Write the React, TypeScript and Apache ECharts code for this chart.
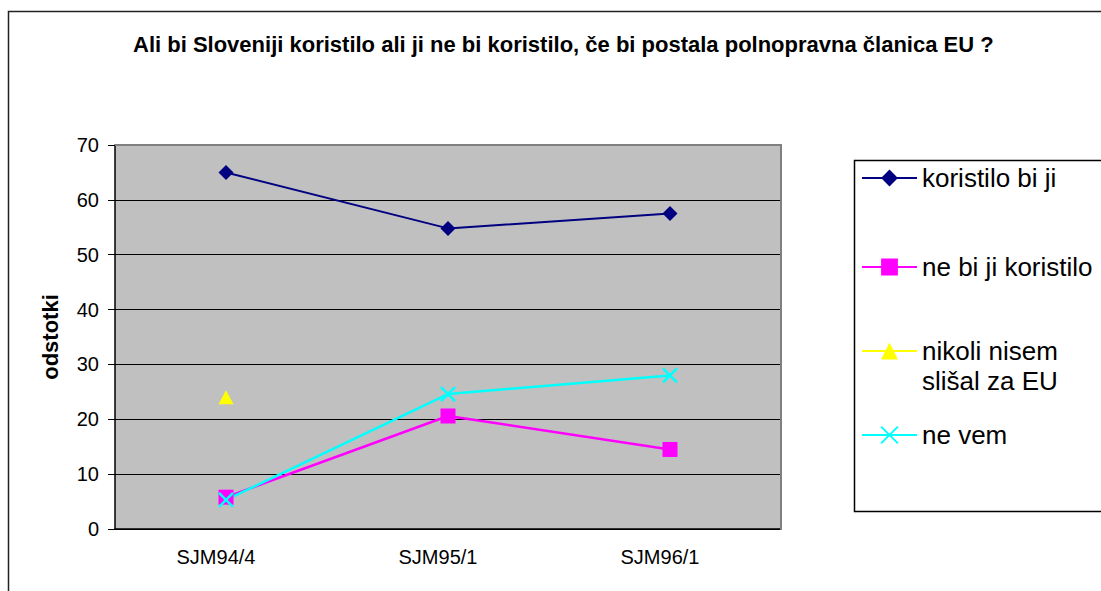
import React, { useEffect, useRef } from "react";
import * as echarts from "echarts";

const categories = ["SJM94/4", "SJM95/1", "SJM96/1"];
const koristiloBiJi = [65, 54.8, 57.5];
const neBiJiKoristilo = [5.8, 20.6, 14.5];
const nikoliNisemSlisal = [24, null, null];
const neVem = [5.3, 24.6, 28.0];
const yMin = 0;
const yMax = 70;
const yInterval = 10;

const seriesNames = [
  "koristilo bi ji",
  "ne bi ji koristilo",
  "nikoli nisem\nslišal za EU",
  "ne vem",
];

const FONT = "'Liberation Sans', Arial, sans-serif";

export default function App() {
  const ref = useRef<HTMLDivElement>(null);

  useEffect(() => {
    document.body.style.margin = "0";
    if (!ref.current) return;
    const chart = echarts.init(ref.current, undefined, { renderer: "svg" });

    const G = { left: 115, top: 145, right: 320, bottom: 62 };
    const W = 1101;
    const H = 591;
    const gx2 = W - G.right;
    const gy2 = H - G.bottom;

    const legendTops = [163, 252, 306, 420];

    const option: any = {
      animation: false,
      backgroundColor: "#ffffff",
      textStyle: { fontFamily: FONT },
      title: {
        text: "Ali bi Sloveniji koristilo ali ji ne bi koristilo, če bi postala polnopravna članica EU ?",
        left: 133,
        top: 33,
        padding: 0,
        textStyle: {
          fontFamily: FONT,
          fontWeight: "bold",
          fontSize: 22,
          color: "#000",
        },
      },
      grid: {
        left: G.left,
        top: G.top,
        right: G.right,
        bottom: G.bottom,
        show: true,
        backgroundColor: "#C0C0C0",
        borderWidth: 0,
      },
      xAxis: {
        type: "category",
        data: categories,
        boundaryGap: true,
        axisLine: { lineStyle: { color: "#000", width: 1.5 } },
        axisTick: { length: 7, lineStyle: { color: "#000", width: 1 } },
        axisLabel: {
          fontFamily: FONT,
          fontSize: 20,
          color: "#000",
          margin: 18,
          padding: [0, 20, 0, 0],
        },
        splitLine: { show: false },
      },
      yAxis: {
        type: "value",
        min: yMin,
        max: yMax,
        interval: yInterval,
        name: "odstotki",
        nameLocation: "middle",
        nameRotate: 90,
        nameGap: 54,
        nameTextStyle: {
          fontFamily: FONT,
          fontWeight: "bold",
          fontSize: 22,
          color: "#000",
        },
        axisLine: { show: true, lineStyle: { color: "#000", width: 1.5 } },
        axisTick: { show: true, length: 7, lineStyle: { color: "#000", width: 1 } },
        axisLabel: {
          fontFamily: FONT,
          fontSize: 20,
          color: "#000",
          margin: 16,
        },
        splitLine: { show: true, lineStyle: { color: "#000", width: 1 } },
      },
      legend: seriesNames.map((n, i) => ({
        data: [n],
        left: 861,
        top: legendTops[i],
        orient: "vertical",
        itemWidth: 55,
        itemHeight: 21,
        itemGap: 0,
        padding: 0,
        selectedMode: false,
        formatter: i === 2 ? (name: string) => "\n" + name : undefined,
        textStyle: {
          fontFamily: FONT,
          fontSize: 26,
          lineHeight: 30,
          color: "#000",
        },
      })),
      graphic: [
        {
          type: "rect",
          z: 100,
          silent: true,
          shape: { x: 8.5, y: 11.5, width: 1200, height: 700 },
          style: { fill: "none", stroke: "#222", lineWidth: 1.5 },
        },
        {
          type: "rect",
          z: 100,
          silent: true,
          shape: { x: 854.5, y: 160.5, width: 400, height: 351 },
          style: { fill: "none", stroke: "#000", lineWidth: 1.5 },
        },
        {
          type: "line",
          z: 100,
          silent: true,
          shape: { x1: G.left, y1: G.top, x2: gx2, y2: G.top },
          style: { stroke: "#808080", lineWidth: 2 },
        },
        {
          type: "line",
          z: 100,
          silent: true,
          shape: { x1: gx2, y1: G.top - 1, x2: gx2, y2: gy2 + 1 },
          style: { stroke: "#808080", lineWidth: 2 },
        },
      ],
      series: [
        {
          name: seriesNames[0],
          type: "line",
          data: koristiloBiJi,
          symbol: "diamond",
          symbolSize: 15,
          lineStyle: { color: "#000080", width: 2 },
          itemStyle: { color: "#000080" },
        },
        {
          name: seriesNames[1],
          type: "line",
          data: neBiJiKoristilo,
          symbol: "rect",
          symbolSize: 15,
          lineStyle: { color: "#FF00FF", width: 2.5 },
          itemStyle: { color: "#FF00FF" },
        },
        {
          name: seriesNames[2],
          type: "line",
          data: nikoliNisemSlisal,
          symbol: "triangle",
          symbolSize: [15, 14],
          connectNulls: false,
          lineStyle: { color: "#FFFF00", width: 2.5 },
          itemStyle: { color: "#FFFF00" },
        },
        {
          name: seriesNames[3],
          type: "line",
          data: neVem,
          symbol: "path://M0,0L10,10M10,0L0,10",
          symbolSize: 14,
          lineStyle: { color: "#00FFFF", width: 2.5 },
          itemStyle: { color: "#00FFFF", borderColor: "#00FFFF", borderWidth: 2.5 },
        },
      ],
    };

    chart.setOption(option);
    return () => chart.dispose();
  }, []);

  return <div ref={ref} style={{ width: 1101, height: 591 }} />;
}
